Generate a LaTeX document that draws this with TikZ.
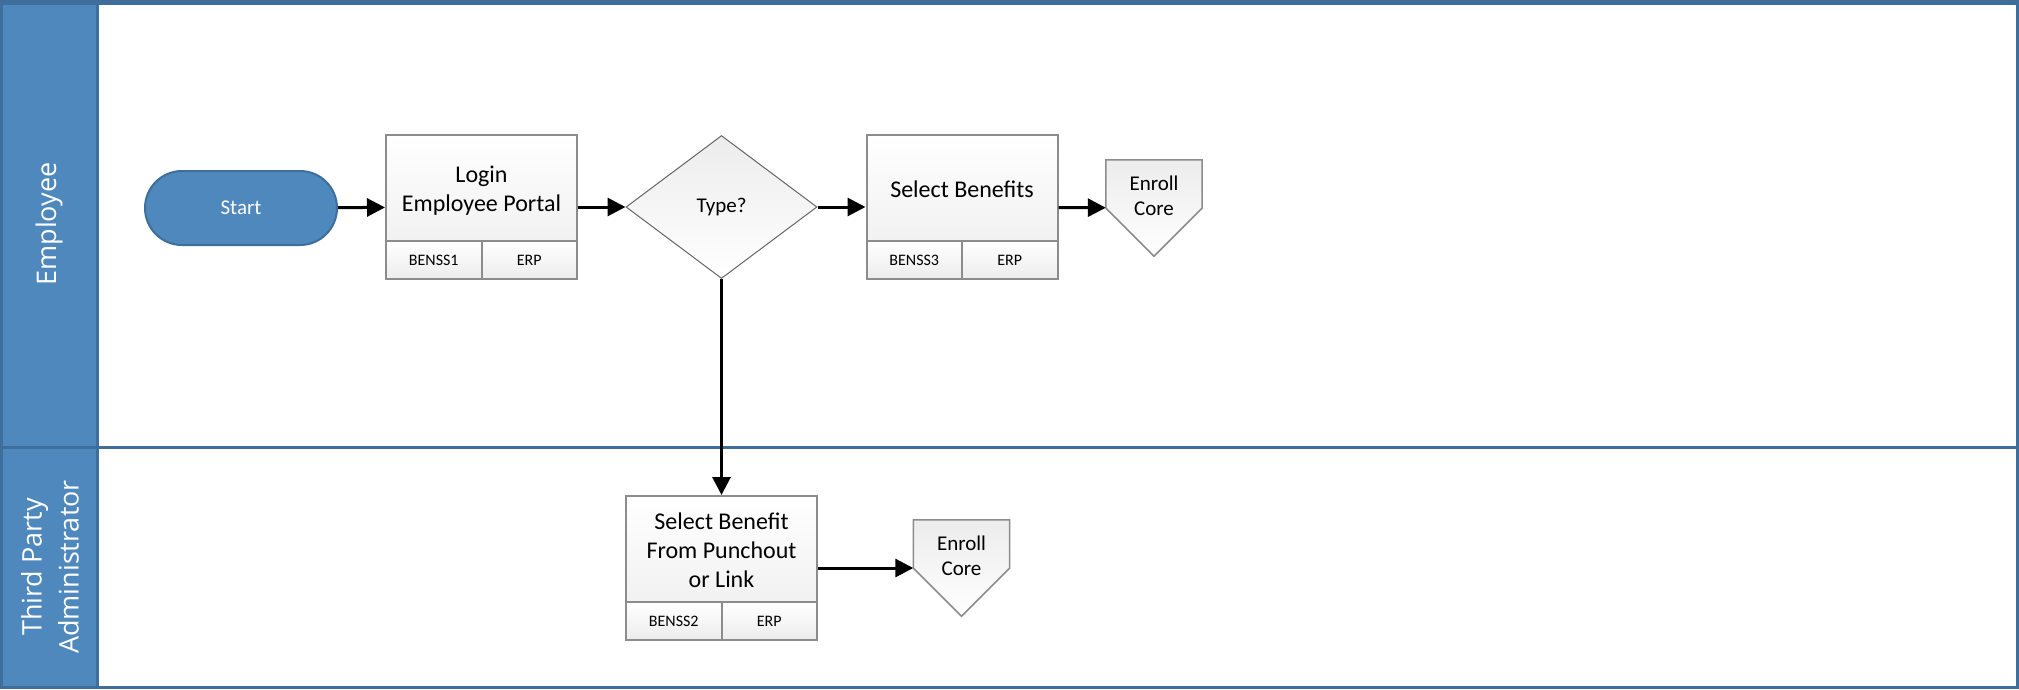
\documentclass[tikz,border=0pt]{standalone}
\usepackage{fontspec}
\setmainfont{Carlito}
\newfontfamily\lanefont{Open Sans}
\usetikzlibrary{arrows.meta,shapes.geometric,positioning,backgrounds}

\definecolor{laneblue}{RGB}{79,136,189}
\definecolor{laneedge}{RGB}{62,110,156}
\definecolor{boxedge}{RGB}{140,140,140}
\definecolor{boxgray}{RGB}{236,236,236}

\tikzset{
	lanehead/.style={fill=laneblue, draw=laneedge, line width=3pt},
	laneline/.style={draw=laneedge, line width=3pt},
	lanetext/.style={text=white, rotate=90, align=center, inner sep=0pt,
		font=\lanefont\fontsize{27}{37}\selectfont},
	startnode/.style={draw=laneedge, fill=laneblue, line width=2pt, rounded corners=37pt,
		minimum width=192pt, minimum height=74pt, text=white, font=\fontsize{21}{25}\selectfont},
	taskbox/.style={draw=boxedge, line width=2pt, top color=white, bottom color=boxgray,
		minimum width=191pt, minimum height=144pt, align=center, text depth=36pt,
		font=\fontsize{24}{29}\selectfont},
	cellbox/.style={draw=boxedge, line width=2pt, top color=white, bottom color=boxgray,
		minimum width=95.5pt, minimum height=38pt, inner sep=0pt, font=\fontsize{16}{19}\selectfont},
	decision/.style={diamond, aspect=1.336, draw=black!60, line width=1pt, inner sep=0pt,
		top color=boxgray, bottom color=white, minimum width=191pt, minimum height=143pt,
		font=\fontsize{21}{25}\selectfont},
	offpage/.style={minimum width=96pt, minimum height=96pt, inner sep=0pt, align=center,
		text depth=25pt, font=\fontsize{21}{25}\selectfont},
	offshape/.style={draw=boxedge, line width=1.5pt, top color=boxgray, bottom color=white},
	flow/.style={line width=3pt, -{Triangle[length=18pt,width=18pt]}}
}

\begin{document}
\begin{tikzpicture}[x=1pt,y=-1pt]
	\useasboundingbox (0,0) rectangle (2019,689);

	% steps
	\node[startnode] (start) at (241,208) {Start};
	\node[taskbox] (login) at (481.5,207) {Login\\Employee Portal};
	\node[cellbox,anchor=south west] (login-id) at (login.south west) {BENSS1};
	\node[cellbox,anchor=south east] (login-sys) at (login.south east) {ERP};
	\node[decision] (type) at (721.5,207) {Type?};
	\node[taskbox] (select) at (962,207) {Select Benefits};
	\node[cellbox,anchor=south west] (select-id) at (select.south west) {BENSS3};
	\node[cellbox,anchor=south east] (select-sys) at (select.south east) {ERP};
	\node[offpage] (enroll-a) at (1154,208) {Enroll\\Core};

	\node[taskbox] (punch) at (721.5,568) {Select Benefit\\From Punchout\\or Link};
	\node[cellbox,anchor=south west] (punch-id) at (punch.south west) {BENSS2};
	\node[cellbox,anchor=south east] (punch-sys) at (punch.south east) {ERP};
	\node[offpage] (enroll-b) at (961.5,568) {Enroll\\Core};

	% connectors
	\draw[flow] (start) -- (login);
	\draw[flow] (login) -- (type);
	\draw[flow] (type) -- (select);
	\draw[flow] (select) -- (enroll-a);
	\draw[flow] (type) -- (punch);
	\draw[flow] (punch) -- (enroll-b);

	\begin{scope}[on background layer]
		% lanes
		\fill[white] (0,0) rectangle (2019,689);
		\draw[laneline] (1.5,2.5) rectangle (2017.5,687.5);
		\draw[lanehead] (1.5,2.5) rectangle (97.5,447);
		\draw[lanehead] (1.5,447) rectangle (97.5,687.5);
		\draw[laneline] (97.5,447) -- (2017.5,447);
		\draw[laneedge, line width=5pt] (0,2.5) -- (2019,2.5);
		\node[lanetext] (lane-emp) at (49,224) {Employee};
		\node[lanetext] (lane-tpa) at (50,567) {Third Party\\Administrator};
		% off-page marks
		\foreach \n in {enroll-a,enroll-b}
			\draw[offshape] (\n.north west) -- (\n.north east) -- (\n.east) -- (\n.south) -- (\n.west) -- cycle;
	\end{scope}
\end{tikzpicture}
\end{document}
